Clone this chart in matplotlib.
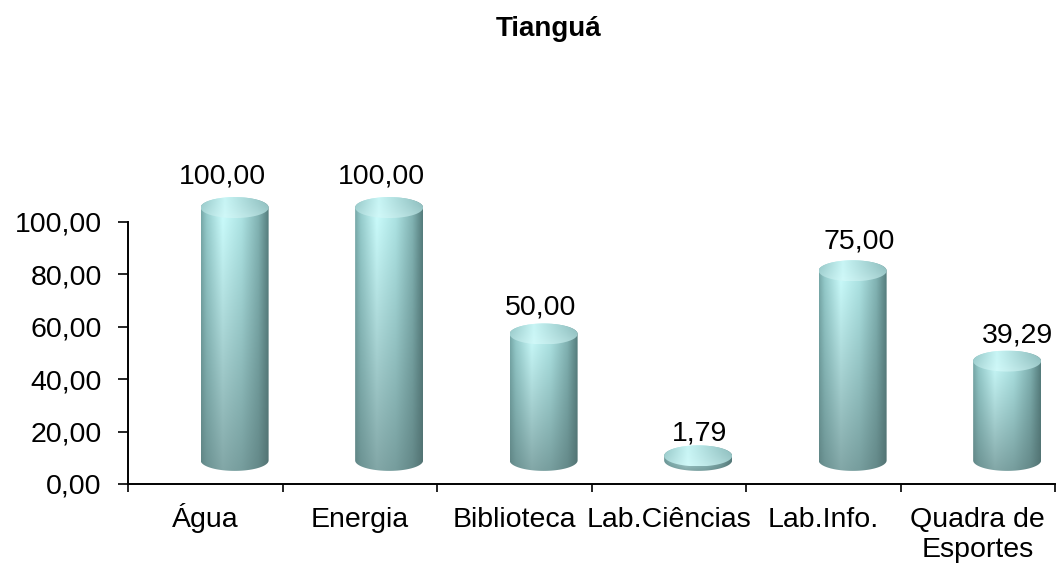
import numpy as np
import matplotlib.pyplot as plt
from matplotlib.path import Path
from matplotlib.patches import PathPatch
from matplotlib.transforms import ScaledTranslation

plt.rcParams['font.family'] = ['Liberation Sans', 'DejaVu Sans']

title = 'Tianguá'
categories = ['Água', 'Energia', 'Biblioteca', 'Lab.Ciências', 'Lab.Info.', 'Quadra de\nEsportes']
values = [100.00, 100.00, 50.00, 1.79, 75.00, 39.29]
value_labels = ['100,00', '100,00', '50,00', '1,79', '75,00', '39,29']
yticks = [0, 20, 40, 60, 80, 100]
ytick_labels = ['0,00', '20,00', '40,00', '60,00', '80,00', '100,00']

# look of the fake 3d cylinders
DX = 0.19       # shift to the right (depth), category units
HALF_W = 0.22   # radius, category units
BASE = 9.0      # floor of the cylinders, data units
DEPTH = 0.965   # perspective shrink of heights
CAP_H = 4.0     # half height of the elliptic ends, data units

body_u = [0.0, 0.08, 0.32, 0.6, 0.85, 1.0]
body_rgb = np.array([[120, 170, 170], [150, 205, 205], [205, 255, 255],
                     [175, 230, 230], [130, 180, 180], [85, 125, 125]]) / 255.
cap_u = [0.0, 0.35, 1.0]
cap_rgb = np.array([[150, 200, 200], [200, 245, 245], [140, 188, 188]]) / 255.


def shade(u_pts, rgb, ny, nx, dark, amount, power):
    u = np.linspace(0, 1, nx)
    row = np.stack([np.interp(u, u_pts, rgb[:, k]) for k in range(3)], axis=-1)
    y = np.linspace(0, 1, ny)[:, None, None]
    f = amount * (1 - y) ** power
    return row[None, :, :] * (1 - f) + np.array(dark) / 255. * f


def ellipse_pts(c, yc, t0, t1, n=60):
    t = np.linspace(t0, t1, n)
    return np.column_stack([c + HALF_W * np.cos(t), yc + CAP_H * np.sin(t)])


def cylinder(ax, c, v):
    bot = BASE
    top = BASE + DEPTH * v
    pts = np.vstack([ellipse_pts(c, bot, np.pi, 2 * np.pi),
                     ellipse_pts(c, top, 0, np.pi)])
    body = PathPatch(Path(np.vstack([pts, pts[:1]]), closed=True),
                     transform=ax.transData, fc='none', ec='none')
    ax.add_patch(body)
    img = shade(body_u, body_rgb, 200, 120, [80, 108, 108], 0.6, 1.1)
    im = ax.imshow(img, extent=[c - HALF_W, c + HALF_W, bot - CAP_H, top + CAP_H],
                   origin='lower', aspect='auto', interpolation='bilinear', zorder=2)
    im.set_clip_path(body)

    cap_pts = ellipse_pts(c, top, 0, 2 * np.pi, 90)
    cap = PathPatch(Path(cap_pts, closed=True), transform=ax.transData,
                    fc='none', ec='none')
    ax.add_patch(cap)
    cimg = shade(cap_u, cap_rgb, 40, 120, [225, 255, 255], 0.35, 1.5)
    im2 = ax.imshow(cimg, extent=[c - HALF_W, c + HALF_W, top - CAP_H, top + CAP_H],
                    origin='lower', aspect='auto', interpolation='bilinear', zorder=3)
    im2.set_clip_path(cap)


def main():
    fig = plt.figure(figsize=(10.58, 5.65), dpi=100)
    ax = fig.add_axes([0.121, 0.1434, 0.8762, 0.5796])

    x = np.arange(len(categories)) + 0.5
    for xi, v in zip(x, values):
        cylinder(ax, xi + DX, v)

    # labels drift right with the perspective
    for i, (xi, v, lab) in enumerate(zip(x, values, value_labels)):
        ax.annotate(lab, (xi + 0.11 + 0.03 * i, v), xytext=(0, 33),
                    textcoords='offset points', ha='center', va='center',
                    fontsize=20.5, annotation_clip=False)

    ax.set_xlim(0, 6)
    ax.set_ylim(0, 125)

    for s in ['top', 'right']:
        ax.spines[s].set_visible(False)
    ax.spines['left'].set_bounds(0, 100)
    ax.spines['left'].set_linewidth(1.4)
    ax.spines['bottom'].set_linewidth(1.4)

    ax.set_yticks(yticks)
    ax.set_yticklabels(ytick_labels, fontsize=20.5)
    ax.tick_params(axis='y', direction='out', length=7, width=1.2, pad=12)

    # category names, one text per line so every first line sits on one baseline
    ax.set_xticks(np.arange(0, 7))
    ax.set_xticklabels([])
    ax.tick_params(axis='x', direction='out', length=6, width=1.2)
    for xi, cat in zip(x, categories):
        for k, line in enumerate(cat.split('\n')):
            shift = ScaledTranslation(0, -(31 + 21.6 * k) / 72, fig.dpi_scale_trans)
            ax.text(xi, 0, line, transform=ax.get_xaxis_transform() + shift,
                    ha='center', va='baseline', fontsize=20.5)

    fig.text(549 / 1058, 1 - 36 / 565, title, ha='center', va='baseline',
             fontsize=20, fontweight='bold')

    fig.savefig('out.png', dpi=100)


if __name__ == '__main__':
    main()
